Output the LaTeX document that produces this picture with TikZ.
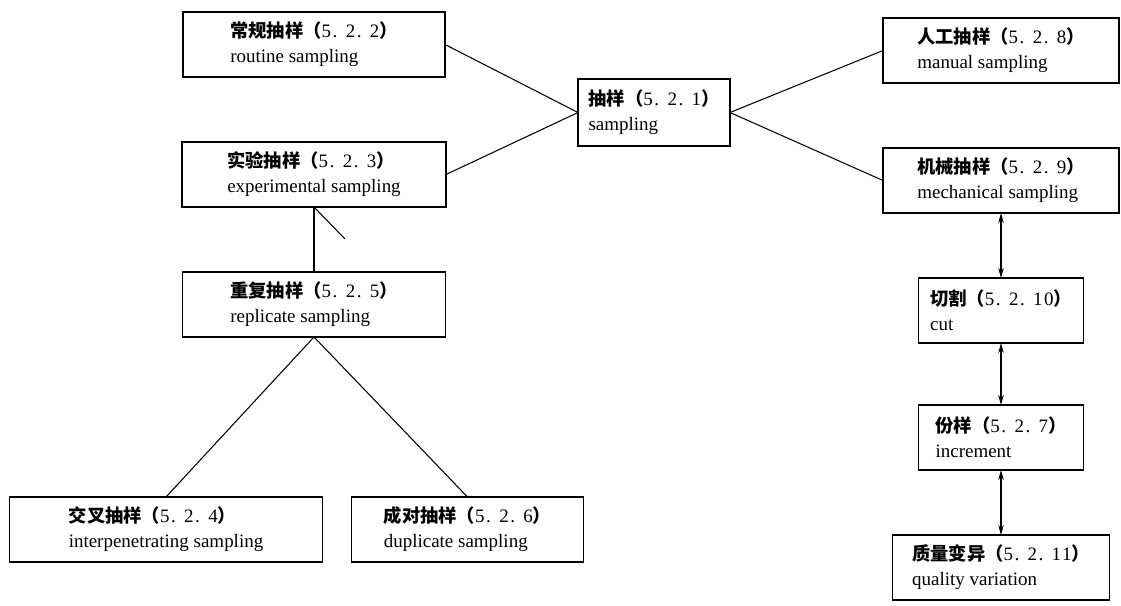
\documentclass[tikz,border=0pt]{standalone}
\usepackage{fontspec}
\setmainfont{Liberation Serif}
\newfontfamily\cjk{Noto Sans CJK SC}
\usetikzlibrary{arrows.meta, positioning}
\newcommand{\term}[3]{{\cjk\bfseries\fontsize{10.4}{14.2}\selectfont #1（}{\addfontfeature{LetterSpace=8}#2}{\cjk\bfseries\fontsize{10.4}{14.2}\selectfont ）}\\#3}

\begin{document}
\begin{tikzpicture}[
		font=\fontsize{10.8}{14.2}\selectfont,
		node distance=1.3cm,
		box/.style={draw, line width=1.1pt, rectangle, align=left, minimum height=1.3cm, inner sep=2pt, outer sep=0pt},
		link/.style={line width=0.6pt},
		arrow/.style={{Stealth[length=2mm, width=1.1mm]}-{Stealth[length=2mm, width=1.1mm]}, line width=0.6pt}
		]
		\useasboundingbox (0,0) rectangle (22.42,-12.12);
		
		% Centre
		\node[box, minimum width=3.04cm, minimum height=1.34cm] (samp) at (13.08,-2.25) {\term{抽样}{5. 2. 1}{sampling}};
		
		% Left branch
		\node[box, minimum width=5.24cm] (routine) at (6.28,-0.89) {\term{常规抽样}{5. 2. 2}{routine sampling}};
		\node[box, minimum width=5.28cm] (exper) [below=of routine] {\term{实验抽样}{5. 2. 3}{experimental sampling}};
		\node[box, minimum width=5.26cm] (repl) [below=of exper] {\term{重复抽样}{5. 2. 5}{replicate sampling}};
		\node[box, minimum width=6.26cm] (interp) [below=3.2cm of repl, xshift=-2.96cm] {\term{交叉抽样}{5. 2. 4}{interpenetrating sampling}};
		\node[box, minimum width=4.64cm] (dupl) [below=3.2cm of repl, xshift=3.07cm] {\term{成对抽样}{5. 2. 6}{duplicate sampling}};
		
		% Right branch
		\node[box, minimum width=4.72cm] (manual) at (20.02,-1.01) {\term{人工抽样}{5. 2. 8}{manual sampling}};
		\node[box, minimum width=4.72cm] (mech) [below=of manual] {\term{机械抽样}{5. 2. 9}{mechanical sampling}};
		\node[box, minimum width=3.3cm] (cut) [below=of mech] {\term{切割}{5. 2. 10}{cut}};
		\node[box, minimum width=3.3cm] (incr) [below=1.24cm of cut] {\term{份样}{5. 2. 7}{increment}};
		\node[box, minimum width=4.34cm] (qual) [below=of incr] {\term{质量变异}{5. 2. 11}{quality variation}};
		
		% Lines
		\draw[link] (routine.east) -- (samp.west);
		\draw[link] (exper.east) -- (samp.west);
		\draw[link] (samp.east) -- (manual.west);
		\draw[link] (samp.east) -- (mech.west);
		
		\draw[link] (exper.south) -- (repl.north);
		\coordinate[below right=0.64cm and 0.62cm of exper.south] (tick);
		\draw[link] (exper.south) -- (tick);
		
		\draw[link] (repl.south) -- (interp.north);
		\draw[link] (repl.south) -- (dupl.north);
		
		% Arrows
		\draw[arrow] (mech) -- (cut);
		\draw[arrow] (cut) -- (incr);
		\draw[arrow] (incr) -- (qual);
		
	\end{tikzpicture}
\end{document}
